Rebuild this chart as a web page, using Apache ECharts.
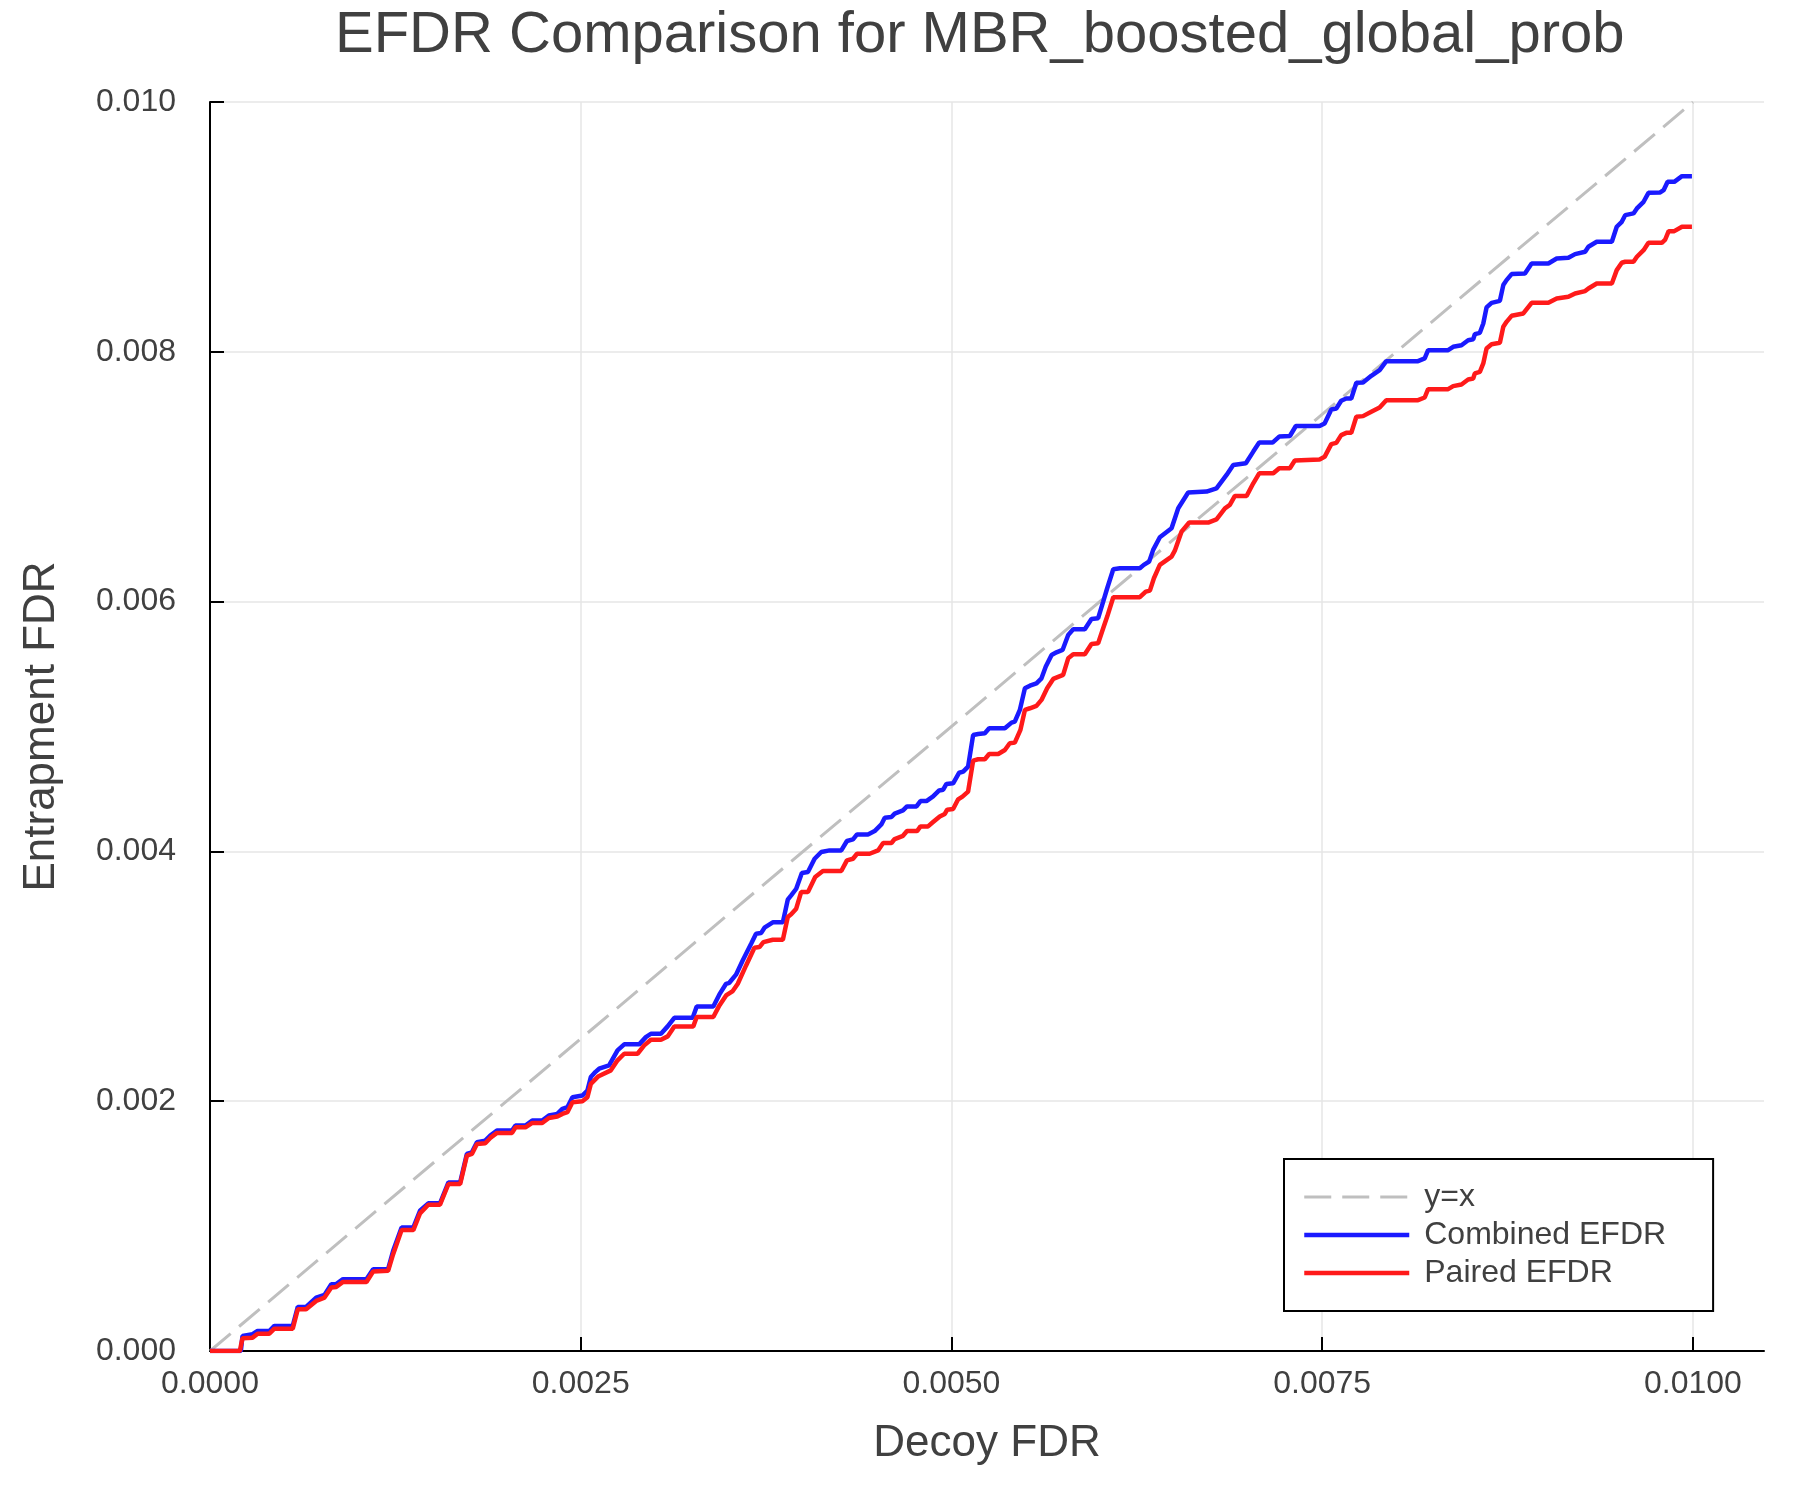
<!DOCTYPE html>
<html>
<head>
<meta charset="utf-8">
<title>EFDR Comparison</title>
<script src="https://cdn.jsdelivr.net/npm/echarts@6/dist/echarts.min.js"></script>
<style>
  html, body { margin: 0; padding: 0; background: #fff; }
  #chart { width: 1800px; height: 1500px; }
</style>
</head>
<body>
<div id="chart"></div>
<script>
// values: [decoy FDR, entrapment FDR]
var identityLine = [[0, 0], [0.01, 0.01]];

var combinedEfdr = [
  [0, 0], [0.000208, 0], [0.000219, 0.000120], [0.000287, 0.000134], [0.000321, 0.000160],
  [0.000400, 0.000160], [0.000434, 0.000201], [0.000558, 0.000201], [0.000592, 0.000353],
  [0.000648, 0.000353], [0.000716, 0.000428], [0.000772, 0.000449], [0.000818, 0.000535],
  [0.000851, 0.000535], [0.000897, 0.000575], [0.001055, 0.000575], [0.001100, 0.000655],
  [0.001201, 0.000655], [0.001235, 0.000802], [0.001292, 0.000989], [0.001371, 0.000989],
  [0.001416, 0.001123], [0.001472, 0.001182], [0.001551, 0.001182], [0.001608, 0.001350],
  [0.001687, 0.001350], [0.001732, 0.001578], [0.001766, 0.001591], [0.001800, 0.001671],
  [0.001856, 0.001684], [0.001890, 0.001725], [0.001935, 0.001765], [0.002037, 0.001765],
  [0.002060, 0.001805], [0.002127, 0.001805], [0.002173, 0.001845], [0.002240, 0.001845],
  [0.002285, 0.001885], [0.002342, 0.001898], [0.002376, 0.001939], [0.002410, 0.001952],
  [0.002444, 0.002032], [0.002511, 0.002045], [0.002545, 0.002086], [0.002568, 0.002193],
  [0.002600, 0.002235], [0.002624, 0.002260], [0.002691, 0.002287], [0.002748, 0.002407],
  [0.002793, 0.002455], [0.002894, 0.002455], [0.002939, 0.002513], [0.002973, 0.002540],
  [0.003041, 0.002540], [0.003086, 0.002599], [0.003131, 0.002668], [0.003255, 0.002668],
  [0.003282, 0.002759], [0.003394, 0.002759], [0.003435, 0.002855], [0.003480, 0.002940],
  [0.003502, 0.002948], [0.003547, 0.003013], [0.003592, 0.003127], [0.003649, 0.003261],
  [0.003682, 0.003341], [0.003716, 0.003346], [0.003739, 0.003389], [0.003795, 0.003432],
  [0.003863, 0.003432], [0.003896, 0.003613], [0.003919, 0.003648], [0.003953, 0.003701],
  [0.003991, 0.003827], [0.004032, 0.003835], [0.004077, 0.003941], [0.004122, 0.003995],
  [0.004178, 0.004008], [0.004257, 0.004008], [0.004295, 0.004083], [0.004336, 0.004096],
  [0.004363, 0.004136], [0.004437, 0.004136], [0.004482, 0.004163], [0.004527, 0.004216],
  [0.004550, 0.004270], [0.004595, 0.004275], [0.004617, 0.004302], [0.004673, 0.004328],
  [0.004700, 0.004360], [0.004764, 0.004360], [0.004791, 0.004403], [0.004831, 0.004403],
  [0.004876, 0.004440], [0.004917, 0.004488], [0.004944, 0.004494], [0.004966, 0.004540],
  [0.005011, 0.004545], [0.005052, 0.004630], [0.005079, 0.004639], [0.005112, 0.004679],
  [0.005146, 0.004932], [0.005180, 0.004940], [0.005225, 0.004946], [0.005254, 0.004986],
  [0.005360, 0.004986], [0.005405, 0.005031], [0.005427, 0.005039], [0.005461, 0.005133],
  [0.005495, 0.005306], [0.005529, 0.005327], [0.005573, 0.005346], [0.005607, 0.005386],
  [0.005636, 0.005480], [0.005675, 0.005573], [0.005708, 0.005594], [0.005749, 0.005613],
  [0.005787, 0.005733], [0.005821, 0.005778], [0.005899, 0.005778], [0.005944, 0.005861],
  [0.005989, 0.005867], [0.006023, 0.006000], [0.006050, 0.006107], [0.006091, 0.006259],
  [0.006136, 0.006267], [0.006270, 0.006267], [0.006297, 0.006294], [0.006333, 0.006320],
  [0.006360, 0.006414], [0.006405, 0.006515], [0.006484, 0.006587], [0.006529, 0.006747],
  [0.006596, 0.006873], [0.006720, 0.006881], [0.006787, 0.006907], [0.006855, 0.007014],
  [0.006900, 0.007094], [0.006985, 0.007108], [0.007035, 0.007201], [0.007075, 0.007273],
  [0.007165, 0.007273], [0.007210, 0.007321], [0.007282, 0.007326], [0.007322, 0.007406],
  [0.007482, 0.007406], [0.007516, 0.007426], [0.007561, 0.007538], [0.007595, 0.007546],
  [0.007628, 0.007608], [0.007662, 0.007626], [0.007696, 0.007626], [0.007730, 0.007752],
  [0.007775, 0.007754], [0.007831, 0.007808], [0.007887, 0.007853], [0.007932, 0.007925],
  [0.008146, 0.007925], [0.008191, 0.007947], [0.008214, 0.008013], [0.008349, 0.008013],
  [0.008383, 0.008040], [0.008439, 0.008053], [0.008484, 0.008093], [0.008518, 0.008101],
  [0.008529, 0.008141], [0.008563, 0.008152], [0.008586, 0.008227], [0.008608, 0.008355],
  [0.008642, 0.008392], [0.008698, 0.008408], [0.008721, 0.008534], [0.008743, 0.008574],
  [0.008777, 0.008622], [0.008867, 0.008627], [0.008912, 0.008707], [0.009025, 0.008707],
  [0.009081, 0.008747], [0.009160, 0.008753], [0.009205, 0.008782], [0.009273, 0.008801],
  [0.009295, 0.008841], [0.009351, 0.008881], [0.009453, 0.008881], [0.009486, 0.009001],
  [0.009520, 0.009041], [0.009543, 0.009094], [0.009599, 0.009108], [0.009622, 0.009148],
  [0.009667, 0.009201], [0.009700, 0.009273], [0.009779, 0.009276], [0.009802, 0.009294],
  [0.009829, 0.009361], [0.009874, 0.009361], [0.009926, 0.009406], [0.009993, 0.009406]
];

var pairedEfdr = [
  [0, 0], [0.000201, 0], [0.000219, 0.000102], [0.000287, 0.000107], [0.000321, 0.000139],
  [0.000400, 0.000139], [0.000434, 0.000179], [0.000558, 0.000179], [0.000592, 0.000334],
  [0.000648, 0.000334], [0.000716, 0.000401], [0.000772, 0.000428], [0.000818, 0.000508],
  [0.000851, 0.000513], [0.000897, 0.000553], [0.001055, 0.000553], [0.001100, 0.000636],
  [0.001201, 0.000642], [0.001235, 0.000775], [0.001292, 0.000968], [0.001371, 0.000968],
  [0.001416, 0.001102], [0.001472, 0.001171], [0.001551, 0.001171], [0.001608, 0.001337],
  [0.001687, 0.001337], [0.001732, 0.001564], [0.001766, 0.001578], [0.001800, 0.001658],
  [0.001856, 0.001663], [0.001890, 0.001706], [0.001935, 0.001746], [0.002037, 0.001746],
  [0.002060, 0.001791], [0.002127, 0.001791], [0.002173, 0.001826], [0.002240, 0.001826],
  [0.002285, 0.001866], [0.002342, 0.001877], [0.002376, 0.001898], [0.002410, 0.001912],
  [0.002444, 0.001992], [0.002511, 0.002000], [0.002545, 0.002032], [0.002568, 0.002139],
  [0.002620, 0.002200], [0.002703, 0.002247], [0.002748, 0.002327], [0.002793, 0.002380],
  [0.002883, 0.002380], [0.002928, 0.002447], [0.002973, 0.002492], [0.003041, 0.002492],
  [0.003086, 0.002519], [0.003131, 0.002599], [0.003259, 0.002599], [0.003282, 0.002674],
  [0.003394, 0.002674], [0.003435, 0.002767], [0.003480, 0.002847], [0.003525, 0.002882],
  [0.003559, 0.002940], [0.003615, 0.003087], [0.003671, 0.003229], [0.003705, 0.003234],
  [0.003732, 0.003274], [0.003795, 0.003293], [0.003863, 0.003293], [0.003896, 0.003474],
  [0.003919, 0.003496], [0.003953, 0.003541], [0.003986, 0.003674], [0.004032, 0.003674],
  [0.004081, 0.003795], [0.004133, 0.003843], [0.004257, 0.003843], [0.004295, 0.003928],
  [0.004336, 0.003941], [0.004363, 0.003981], [0.004448, 0.003981], [0.004505, 0.004008],
  [0.004539, 0.004067], [0.004595, 0.004067], [0.004617, 0.004099], [0.004673, 0.004125],
  [0.004700, 0.004163], [0.004768, 0.004163], [0.004791, 0.004200], [0.004842, 0.004200],
  [0.004876, 0.004235], [0.004921, 0.004280], [0.004955, 0.004300], [0.004971, 0.004334],
  [0.005011, 0.004339], [0.005045, 0.004417], [0.005074, 0.004439], [0.005112, 0.004479],
  [0.005146, 0.004727], [0.005180, 0.004738], [0.005225, 0.004738], [0.005254, 0.004780],
  [0.005315, 0.004780], [0.005360, 0.004812], [0.005393, 0.004866], [0.005427, 0.004871],
  [0.005465, 0.004973], [0.005495, 0.005133], [0.005529, 0.005146], [0.005573, 0.005165],
  [0.005607, 0.005213], [0.005645, 0.005306], [0.005686, 0.005381], [0.005753, 0.005413],
  [0.005787, 0.005546], [0.005821, 0.005578], [0.005899, 0.005578], [0.005944, 0.005661],
  [0.005989, 0.005666], [0.006023, 0.005786], [0.006050, 0.005880], [0.006091, 0.006035],
  [0.006270, 0.006035], [0.006310, 0.006080], [0.006338, 0.006088], [0.006365, 0.006187],
  [0.006405, 0.006294], [0.006484, 0.006360], [0.006506, 0.006408], [0.006551, 0.006560],
  [0.006603, 0.006633], [0.006731, 0.006633], [0.006787, 0.006659], [0.006844, 0.006747],
  [0.006877, 0.006774], [0.006911, 0.006846], [0.006990, 0.006846], [0.007035, 0.006947],
  [0.007075, 0.007027], [0.007170, 0.007027], [0.007210, 0.007068], [0.007282, 0.007068],
  [0.007315, 0.007129], [0.007482, 0.007138], [0.007516, 0.007159], [0.007561, 0.007261],
  [0.007595, 0.007271], [0.007628, 0.007333], [0.007662, 0.007351], [0.007696, 0.007351],
  [0.007730, 0.007480], [0.007775, 0.007485], [0.007831, 0.007520], [0.007887, 0.007554],
  [0.007932, 0.007613], [0.008146, 0.007613], [0.008191, 0.007634], [0.008214, 0.007701],
  [0.008349, 0.007701], [0.008383, 0.007725], [0.008439, 0.007738], [0.008484, 0.007778],
  [0.008518, 0.007786], [0.008529, 0.007827], [0.008563, 0.007840], [0.008586, 0.007907],
  [0.008608, 0.008027], [0.008642, 0.008061], [0.008698, 0.008072], [0.008721, 0.008200],
  [0.008743, 0.008240], [0.008777, 0.008288], [0.008856, 0.008307], [0.008912, 0.008392],
  [0.009025, 0.008392], [0.009081, 0.008427], [0.009160, 0.008440], [0.009205, 0.008467],
  [0.009273, 0.008486], [0.009295, 0.008507], [0.009351, 0.008547], [0.009453, 0.008547],
  [0.009486, 0.008654], [0.009520, 0.008713], [0.009543, 0.008721], [0.009599, 0.008721],
  [0.009622, 0.008761], [0.009667, 0.008814], [0.009700, 0.008873], [0.009790, 0.008873],
  [0.009813, 0.008899], [0.009836, 0.008966], [0.009874, 0.008966], [0.009926, 0.009001],
  [0.009993, 0.009001]
];

var xTicks = [0, 0.0025, 0.005, 0.0075, 0.01];
var seriesNames = ['y=x', 'Combined EFDR', 'Paired EFDR'];
var seriesColors = ['#bfbfbf', '#1a1aff', '#ff1a1a'];

var FONT = '"Liberation Sans", Arial, Helvetica, sans-serif';
var TEXT_COLOR = '#404040';
var DASH = [27, 11];

var chart = echarts.init(document.getElementById('chart'));

// legend entries: line only, no marker dot
var legendData = seriesNames.map(function (name, i) {
  return {
    name: name,
    itemStyle: { opacity: 0 },
    lineStyle: { color: seriesColors[i], width: i === 0 ? 3 : 4.5, type: i === 0 ? DASH : 'solid', opacity: 1 }
  };
});

var option = {
  backgroundColor: '#ffffff',
  animation: false,
  title: {
    text: 'EFDR Comparison for MBR_boosted_global_prob',
    left: 330,
    top: 2,
    textStyle: {
      fontFamily: FONT,
      fontSize: 58,
      fontWeight: 'normal',
      color: TEXT_COLOR
    }
  },
  legend: {
    orient: 'vertical',
    left: 1284,
    top: 1159,
    data: legendData,
    itemWidth: 105,
    itemHeight: 14,
    itemGap: 6,
    padding: [22, 47, 22, 18],
    borderColor: '#000',
    borderWidth: 2,
    borderRadius: 0,
    backgroundColor: '#fff',
    textStyle: {
      fontFamily: FONT,
      fontSize: 32,
      lineHeight: 32,
      color: TEXT_COLOR,
      padding: [0, 0, 0, 10]
    }
  },
  grid: {
    left: 210,
    right: 36,
    top: 102,
    bottom: 149,
    containLabel: false
  },
  xAxis: {
    type: 'value',
    min: 0,
    max: 0.010479,
    name: 'Decoy FDR',
    nameLocation: 'middle',
    nameGap: 71,
    nameTextStyle: { fontFamily: FONT, fontSize: 44, color: TEXT_COLOR },
    axisLine: { onZero: false, lineStyle: { color: '#000', width: 2 } },
    axisTick: {
      inside: true, length: 14, customValues: xTicks,
      lineStyle: { color: '#000', width: 2 }
    },
    axisLabel: {
      customValues: xTicks,
      margin: 17,
      fontFamily: FONT,
      fontSize: 32,
      color: TEXT_COLOR,
      formatter: function (v) { return v.toFixed(4); }
    },
    splitLine: { show: true, lineStyle: { color: '#e6e6e6', width: 1.5 } }
  },
  yAxis: {
    type: 'value',
    min: 0,
    max: 0.01,
    interval: 0.002,
    name: 'Entrapment FDR',
    nameLocation: 'middle',
    nameGap: 146,
    nameTextStyle: { fontFamily: FONT, fontSize: 44, color: TEXT_COLOR },
    axisLine: { show: true, onZero: false, lineStyle: { color: '#000', width: 2 } },
    axisTick: { show: true, inside: true, length: 14, lineStyle: { color: '#000', width: 2 } },
    axisLabel: {
      margin: 34,
      fontFamily: FONT,
      fontSize: 32,
      color: TEXT_COLOR,
      formatter: function (v) { return v.toFixed(3); }
    },
    splitLine: { show: true, lineStyle: { color: '#e6e6e6', width: 1.5 } }
  },
  series: [
    {
      name: seriesNames[0],
      type: 'line',
      data: identityLine,
      symbol: 'none',
      lineStyle: { color: seriesColors[0], width: 3, type: DASH },
      itemStyle: { color: seriesColors[0] }
    },
    {
      name: seriesNames[1],
      type: 'line',
      data: combinedEfdr,
      symbol: 'none',
      lineStyle: { color: seriesColors[1], width: 4.5 },
      itemStyle: { color: seriesColors[1] }
    },
    {
      name: seriesNames[2],
      type: 'line',
      data: pairedEfdr,
      symbol: 'none',
      lineStyle: { color: seriesColors[2], width: 4.5 },
      itemStyle: { color: seriesColors[2] }
    }
  ]
};

chart.setOption(option);
</script>
</body>
</html>
